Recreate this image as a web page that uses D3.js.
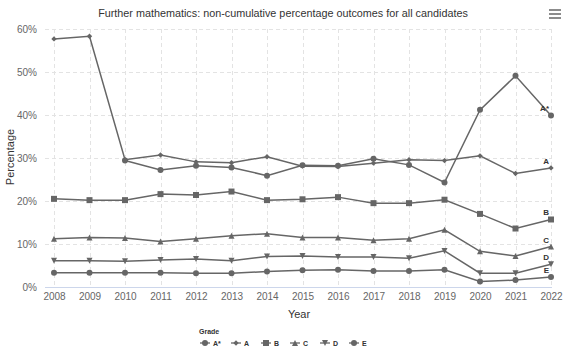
<!DOCTYPE html>
<html>
<head>
<meta charset="utf-8">
<script src="https://cdn.jsdelivr.net/npm/d3@7"></script>
<style>
  body { margin: 0; background: #fff; }
  svg { font-family: "Liberation Sans", Arial, sans-serif; }
</style>
</head>
<body>
<div id="chart"></div>
<script>
'use strict';

const years = [2008, 2009, 2010, 2011, 2012, 2013, 2014, 2015, 2016, 2017, 2018, 2019, 2020, 2021, 2022];
const grades = ['A*', 'A', 'B', 'C', 'D', 'E'];
const gradeAStar = [null, null, 29.4, 27.2, 28.2, 27.8, 25.9, 28.3, 28.2, 29.8, 28.4, 24.3, 41.2, 49.1, 39.9];
const gradeA = [57.7, 58.3, 29.6, 30.7, 29.1, 28.9, 30.3, 28.1, 28.0, 28.8, 29.6, 29.4, 30.5, 26.4, 27.7];
const gradeB = [20.5, 20.2, 20.2, 21.6, 21.4, 22.2, 20.2, 20.4, 20.9, 19.5, 19.5, 20.3, 17.0, 13.6, 15.7];
const gradeC = [11.2, 11.5, 11.4, 10.6, 11.2, 11.9, 12.4, 11.5, 11.5, 10.9, 11.2, 13.3, 8.3, 7.2, 9.4];
const gradeD = [6.1, 6.1, 6.0, 6.3, 6.5, 6.1, 7.1, 7.2, 7.0, 7.0, 6.7, 8.4, 3.2, 3.2, 5.3];
const gradeE = [3.3, 3.3, 3.3, 3.3, 3.2, 3.2, 3.6, 3.9, 4.0, 3.7, 3.7, 4.0, 1.3, 1.6, 2.3];
const yTicks = [0, 10, 20, 30, 40, 50, 60];

const seriesValues = [gradeAStar, gradeA, gradeB, gradeC, gradeD, gradeE];
const symbols = ['circle', 'diamond', 'square', 'triangle', 'triangle-down', 'circle'];

const width = 569, height = 352;
const plot = { left: 45, right: 552, top: 29, bottom: 287 };
const lineColor = '#666';

const svg = d3.select('#chart').append('svg')
    .attr('width', width)
    .attr('height', height);

const x = d3.scaleLinear().domain([2008, 2022]).range([54, 551]);
const y = d3.scaleLinear().domain([0, 60]).range([plot.bottom, plot.top]);

// marker path, Highcharts-ish shapes
function marker(type, r) {
    switch (type) {
        case 'circle':
            return d3.symbol(d3.symbolCircle, Math.PI * r * r)().toString();
        case 'square':
            return `M${-r},${-r}H${r}V${r}H${-r}Z`;
        case 'diamond':
            return `M0,${-r}L${r},0L0,${r}L${-r},0Z`;
        case 'triangle':
            return `M0,${-r}L${r},${r}L${-r},${r}Z`;
        case 'triangle-down':
            return `M${-r},${-r}L${r},${-r}L0,${r}Z`;
    }
}
const markerR = { 'circle': 3, 'diamond': 2.7, 'square': 3, 'triangle': 3, 'triangle-down': 3 };

// title
svg.append('text')
    .attr('x', 283).attr('y', 17)
    .attr('text-anchor', 'middle')
    .attr('fill', '#333')
    .style('font-size', '10.8px')
    .text('Further mathematics: non-cumulative percentage outcomes for all candidates');

// menu icon
svg.append('g').selectAll('line')
    .data([0, 1, 2])
    .join('line')
    .attr('x1', 549).attr('x2', 561)
    .attr('y1', d => 10 + d * 4).attr('y2', d => 10 + d * 4)
    .attr('stroke', lineColor).attr('stroke-width', 1.5);

// horizontal grid
svg.append('g').selectAll('line')
    .data(yTicks.filter(t => t > 0))
    .join('line')
    .attr('x1', plot.left).attr('x2', plot.right)
    .attr('y1', d => y(d) + 0.5).attr('y2', d => y(d) + 0.5)
    .attr('stroke', '#e3e3e3')
    .attr('stroke-dasharray', '4,3');

// vertical grid
svg.append('g').selectAll('line')
    .data(years)
    .join('line')
    .attr('x1', d => Math.round(x(d)) + 0.5).attr('x2', d => Math.round(x(d)) + 0.5)
    .attr('y1', plot.top).attr('y2', plot.bottom)
    .attr('stroke', '#e3e3e3')
    .attr('stroke-dasharray', '4,3');

// x axis line
svg.append('line')
    .attr('x1', plot.left).attr('x2', plot.right)
    .attr('y1', plot.bottom + 0.5).attr('y2', plot.bottom + 0.5)
    .attr('stroke', '#ccd6eb');

// y axis
const yAxis = d3.axisLeft(y).tickValues(yTicks).tickSize(0).tickPadding(8).tickFormat(d => d + '%');
svg.append('g')
    .attr('transform', `translate(${plot.left},0)`)
    .call(yAxis)
    .call(g => g.select('.domain').remove())
    .selectAll('text')
    .attr('fill', '#666')
    .style('font-size', '10px')
    .style('font-family', '"Liberation Sans", Arial, sans-serif');

// x axis
const xAxis = d3.axisBottom(x).tickValues(years).tickSize(0).tickPadding(6).tickFormat(d3.format('d'));
svg.append('g')
    .attr('transform', `translate(0,${plot.bottom})`)
    .call(xAxis)
    .call(g => g.select('.domain').remove())
    .selectAll('text')
    .attr('fill', '#666')
    .style('font-size', '10px')
    .style('font-family', '"Liberation Sans", Arial, sans-serif');

// axis titles
svg.append('text')
    .attr('x', 299).attr('y', 318)
    .attr('text-anchor', 'middle')
    .attr('fill', '#333')
    .style('font-size', '11px')
    .text('Year');

svg.append('text')
    .attr('transform', 'translate(14,157) rotate(-90)')
    .attr('text-anchor', 'middle')
    .attr('fill', '#333')
    .style('font-size', '11px')
    .text('Percentage');

// series
const line = d3.line()
    .defined(d => d.v != null)
    .x(d => x(d.year))
    .y(d => y(d.v));

const seriesGroup = svg.append('g');
grades.forEach((g, i) => {
    const pts = years.map((yr, j) => ({ year: yr, v: seriesValues[i][j] }));
    seriesGroup.append('path')
        .datum(pts)
        .attr('d', line)
        .attr('fill', 'none')
        .attr('stroke', lineColor)
        .attr('stroke-width', 1.5);

    const sym = symbols[i];
    seriesGroup.append('g').selectAll('path')
        .data(pts.filter(d => d.v != null))
        .join('path')
        .attr('transform', d => `translate(${x(d.year)},${y(d.v)})`)
        .attr('d', marker(sym, markerR[sym]))
        .attr('fill', lineColor);

    // end label
    const last = pts[pts.length - 1];
    svg.append('text')
        .attr('x', x(last.year) - 2)
        .attr('y', y(last.v) - 4)
        .attr('text-anchor', 'end')
        .attr('fill', '#333')
        .style('font-size', '8px')
        .style('font-weight', 'bold')
        .text(g);
});

// legend
const legend = svg.append('g');
legend.append('text')
    .attr('x', 199).attr('y', 334)
    .attr('fill', '#333')
    .style('font-size', '7px')
    .style('font-weight', 'bold')
    .text('Grade');

const legendX = [200, 231, 261, 290, 320, 349];
grades.forEach((g, i) => {
    const lx = legendX[i], ly = 343;
    const item = legend.append('g').attr('transform', `translate(${lx},${ly})`);
    item.append('line')
        .attr('x1', 0).attr('x2', 10)
        .attr('stroke', lineColor).attr('stroke-width', 1.3);
    item.append('path')
        .attr('transform', 'translate(5,0)')
        .attr('d', marker(symbols[i], markerR[symbols[i]]))
        .attr('fill', lineColor);
    item.append('text')
        .attr('x', 13).attr('y', 2.5)
        .attr('fill', '#333')
        .style('font-size', '7px')
        .style('font-weight', 'bold')
        .text(g);
});
</script>
</body>
</html>
